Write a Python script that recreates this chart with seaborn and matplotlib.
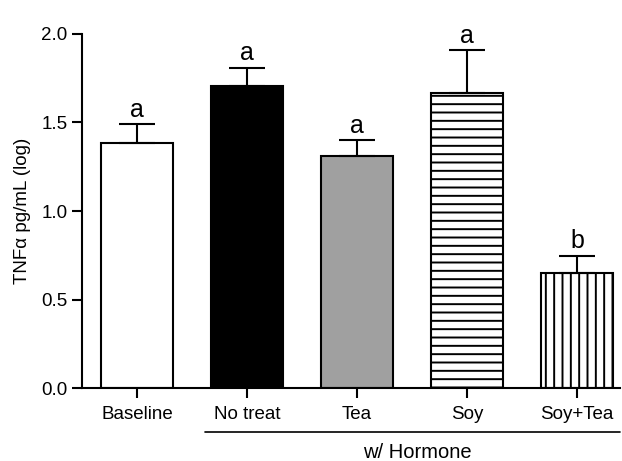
import matplotlib
matplotlib.use("Agg")
import matplotlib.pyplot as plt
import seaborn as sns
import pandas as pd
import numpy as np

categories = ["Baseline", "No treat", "Tea", "Soy", "Soy+Tea"]
means = [1.385, 1.705, 1.31, 1.667, 0.65]
errors = [0.105, 0.105, 0.09, 0.24, 0.095]
letters = ["a", "a", "a", "a", "b"]
fills = ["white", "black", "#a0a0a0", "white", "white"]
hatches = [None, None, None, "--", "||"]
yticks = [0.0, 0.5, 1.0, 1.5, 2.0]

sns.set_theme(style="ticks")
plt.rcParams["font.family"] = ["Liberation Sans", "DejaVu Sans"]
plt.rcParams["hatch.linewidth"] = 1.4
plt.rcParams["text.color"] = "black"
plt.rcParams["axes.labelcolor"] = "black"
plt.rcParams["xtick.color"] = "black"
plt.rcParams["ytick.color"] = "black"
plt.rcParams["xtick.labelcolor"] = "black"
plt.rcParams["ytick.labelcolor"] = "black"

df = pd.DataFrame({"group": categories, "value": means})

fig = plt.figure(figsize=(6.22, 4.61), dpi=100)
ax = fig.add_axes([82/622, (461-388)/461, (620-82)/622, 354/461])

sns.barplot(data=df, x="group", y="value", order=categories, errorbar=None,
            width=0.66, ax=ax, palette=fills, hue="group", legend=False,
            edgecolor="black", linewidth=1.5, saturation=1)

for patch, h in zip(ax.patches, hatches):
    if h:
        patch.set_hatch(h)
    patch.set_edgecolor("black")

x = np.arange(len(categories))
ax.errorbar(x, means, yerr=[np.zeros(len(means)), errors], fmt="none",
            ecolor="black", elinewidth=1.5, capsize=13, capthick=1.5)

for xi, m, e, lt in zip(x, means, errors, letters):
    ax.text(xi, m + e + 0.015, lt, ha="center", va="bottom", fontsize=18,
            color="black")

ax.set_ylim(0, 2.0)
ax.set_xlim(-0.5, (620-137)/110)
ax.set_yticks(yticks)
ax.set_yticklabels([f"{t:.1f}" for t in yticks])
ax.set_xlabel("")
ax.set_ylabel("TNFα pg/mL (log)", fontsize=13.5, labelpad=7, color="black")
ax.tick_params(axis="both", length=7, width=1.5, color="black", labelcolor="black")
ax.tick_params(axis="y", labelsize=13.5)
ax.tick_params(axis="x", labelsize=13.5, pad=6)
for s in ["top", "right"]:
    ax.spines[s].set_visible(False)
for s in ["left", "bottom"]:
    ax.spines[s].set_linewidth(1.5)
    ax.spines[s].set_color("black")

trans = matplotlib.transforms.blended_transform_factory(ax.transData, ax.transAxes)
ax.plot([0.62, (620-137)/110], [-0.124, -0.124], color="black", lw=1.2,
        transform=trans, clip_on=False)
ax.text(2.55, -0.155, "w/ Hormone", transform=trans, ha="center", va="top",
        fontsize=14.5, color="black")

fig.savefig("out.png", dpi=100)
